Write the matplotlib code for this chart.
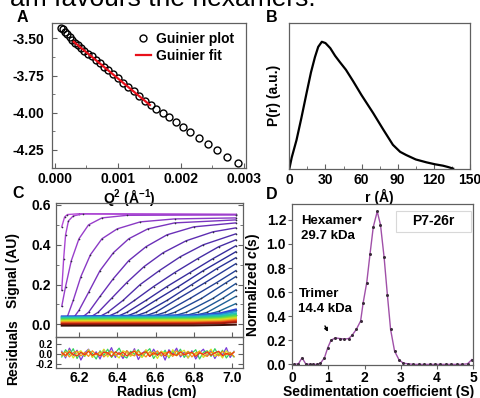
import matplotlib
matplotlib.use("Agg")
import matplotlib.pyplot as plt
from matplotlib.colors import LinearSegmentedColormap
from matplotlib.patches import Rectangle

plt.rcParams["font.family"] = ["Liberation Sans", "DejaVu Sans"]
plt.rcParams["font.weight"] = "bold"
plt.rcParams["axes.labelweight"] = "bold"
plt.rcParams["font.size"] = 10
plt.rcParams["mathtext.fontset"] = "custom"
plt.rcParams["mathtext.rm"] = "Liberation Sans:bold"
plt.rcParams["mathtext.bf"] = "Liberation Sans:bold"
plt.rcParams["mathtext.it"] = "Liberation Sans:bold:italic"

# ---- A: Guinier plot ----
guinier_q2 = [0.000106, 0.000135, 0.000166, 0.000201, 0.000238, 0.000279, 0.000322,
              0.000369, 0.000418, 0.000471, 0.000527, 0.000585, 0.000647, 0.000712,
              0.00078, 0.000851, 0.000925, 0.001002, 0.001082, 0.001165, 0.001251,
              0.00134, 0.001432, 0.00153, 0.00161, 0.00171, 0.00181, 0.00192,
              0.00204, 0.00215, 0.00229, 0.00243, 0.00258, 0.002735, 0.00291]
guinier_lnI = [-3.428, -3.440, -3.455, -3.472, -3.492, -3.511, -3.530, -3.548, -3.565,
               -3.583, -3.602, -3.622, -3.644, -3.667, -3.691, -3.716, -3.742, -3.769,
               -3.797, -3.826, -3.857, -3.888, -3.920, -3.950, -3.972, -4.002, -4.030,
               -4.060, -4.096, -4.130, -4.168, -4.210, -4.250, -4.295, -4.335]
fit_q2 = [0.0003, 0.00151]
fit_lnI = [-3.523, -3.948]

# ---- B: pair distance distribution ----
pr_r = [0, 2, 6, 10, 14.4, 18, 21.3, 24, 27, 30, 34, 38, 42, 47, 53, 60, 69.6, 78,
        86, 92, 97, 105, 114, 121, 127.6, 132, 136]
pr_p = [0, 0.09, 0.228, 0.40, 0.60, 0.76, 0.88, 0.96, 1.0, 0.99, 0.95, 0.89, 0.84,
        0.78, 0.69, 0.58, 0.44, 0.31, 0.19, 0.135, 0.11, 0.075, 0.052, 0.037, 0.026,
        0.015, 0.003]

# ---- C: sedimentation velocity scans ----
scan_radius = [
    [6.11, 6.125, 6.14, 6.2, 7.02],
    [6.11, 6.12, 6.13, 6.145, 6.17, 6.22, 7.02],
    [6.11, 6.13, 6.16, 6.2, 6.25, 6.32, 6.45, 7.02],
    [6.11, 6.14, 6.17, 6.21, 6.26, 6.32, 6.4, 6.52, 6.7, 7.02],
    [6.11, 6.17, 6.2, 6.25, 6.31, 6.38, 6.46, 6.56, 6.7, 7.02],
    [6.11, 6.21, 6.25, 6.31, 6.38, 6.46, 6.55, 6.66, 6.8, 7.02],
    [6.11, 6.25, 6.3, 6.37, 6.45, 6.54, 6.64, 6.76, 6.9, 7.02],
    [6.11, 6.29, 6.35, 6.43, 6.52, 6.62, 6.73, 6.85, 7.02],
    [6.11, 6.33, 6.4, 6.49, 6.59, 6.7, 6.82, 6.93, 7.02],
    [6.11, 6.38, 6.45, 6.55, 6.66, 6.78, 6.9, 7.02],
    [6.11, 6.42, 6.5, 6.6, 6.72, 6.85, 7.02],
    [6.11, 6.46, 6.55, 6.66, 6.79, 6.92, 7.02],
    [6.11, 6.51, 6.6, 6.72, 6.86, 7.02],
    [6.11, 6.55, 6.65, 6.78, 6.92, 7.02],
    [6.11, 6.6, 6.7, 6.84, 6.97, 7.02],
    [6.11, 6.65, 6.76, 6.9, 7.02],
    [6.11, 6.7, 6.82, 6.95, 7.02],
    [6.11, 6.75, 6.87, 7.02],
    [6.11, 6.8, 6.93, 7.02],
    [6.11, 6.86, 6.97, 7.02],
    [6.11, 6.92, 7.02],
]
scan_signal = [
    [0.49, 0.54, 0.552, 0.556, 0.553],
    [0.17, 0.33, 0.45, 0.52, 0.545, 0.555, 0.552],
    [0.09, 0.19, 0.32, 0.43, 0.50, 0.535, 0.548, 0.55],
    [0.025, 0.04, 0.12, 0.24, 0.35, 0.43, 0.48, 0.515, 0.53, 0.535],
    [0.025, 0.03, 0.07, 0.16, 0.27, 0.36, 0.43, 0.48, 0.51, 0.525],
    [0.025, 0.03, 0.06, 0.14, 0.23, 0.32, 0.39, 0.45, 0.49, 0.51],
    [0.025, 0.03, 0.06, 0.13, 0.21, 0.29, 0.36, 0.42, 0.465, 0.485],
    [0.025, 0.03, 0.06, 0.12, 0.20, 0.27, 0.34, 0.40, 0.455],
    [0.025, 0.03, 0.06, 0.12, 0.19, 0.26, 0.33, 0.39, 0.425],
    [0.025, 0.03, 0.06, 0.12, 0.19, 0.26, 0.33, 0.395],
    [0.025, 0.03, 0.06, 0.12, 0.19, 0.27, 0.365],
    [0.025, 0.03, 0.06, 0.12, 0.20, 0.28, 0.335],
    [0.025, 0.03, 0.06, 0.13, 0.21, 0.305],
    [0.025, 0.03, 0.06, 0.13, 0.21, 0.27],
    [0.025, 0.03, 0.06, 0.13, 0.21, 0.24],
    [0.025, 0.03, 0.06, 0.13, 0.205],
    [0.025, 0.03, 0.06, 0.13, 0.173],
    [0.025, 0.03, 0.06, 0.14],
    [0.025, 0.03, 0.065, 0.104],
    [0.025, 0.03, 0.06, 0.07],
    [0.025, 0.03, 0.045],
]
band_radius = [6.11, 6.8, 6.94, 7.02]
band_signal = [
    [0.040, 0.046, 0.056, 0.075],
    [0.036, 0.041, 0.049, 0.065],
    [0.032, 0.036, 0.043, 0.056],
    [0.028, 0.032, 0.038, 0.048],
    [0.024, 0.027, 0.032, 0.042],
    [0.020, 0.023, 0.027, 0.036],
    [0.016, 0.019, 0.023, 0.031],
    [0.012, 0.015, 0.018, 0.026],
    [0.008, 0.010, 0.013, 0.021],
    [0.004, 0.006, 0.009, 0.016],
    [0.000, 0.002, 0.005, 0.010],
    [-0.007, -0.006, -0.004, -0.002],
]

res_radius = [6.11, 6.13, 6.15, 6.17, 6.19, 6.21, 6.23, 6.25, 6.27, 6.29,
              6.31, 6.33, 6.35, 6.37, 6.39, 6.41, 6.43, 6.45, 6.47, 6.49,
              6.51, 6.53, 6.55, 6.57, 6.59, 6.61, 6.63, 6.65, 6.67, 6.69,
              6.71, 6.73, 6.75, 6.77, 6.79, 6.81, 6.83, 6.85, 6.87, 6.89,
              6.91, 6.93, 6.95, 6.97, 6.99, 7.01]
res_blue = [0.05, -0.08, 0.11, -0.03, 0.07, -0.12, 0.02, 0.09, -0.06, 0.04,
            -0.10, 0.08, -0.02, 0.12, -0.07, 0.03, -0.09, 0.06, -0.04, 0.10,
            -0.11, 0.01, 0.07, -0.05, 0.09, -0.03, 0.05, -0.12, 0.08, -0.01,
            0.11, -0.06, 0.03, -0.08, 0.06, -0.10, 0.02, 0.09, -0.04, 0.07,
            -0.09, 0.04, -0.02, 0.12, -0.07, 0.05]
res_green = [-0.06, 0.08, -0.02, 0.10, -0.09, 0.04, -0.05, 0.07, 0.01, -0.10,
             0.06, -0.03, 0.09, -0.07, 0.02, 0.11, -0.04, -0.08, 0.05, -0.01,
             0.08, -0.06, 0.03, 0.10, -0.09, 0.02, -0.04, 0.07, -0.08, 0.05,
             -0.02, 0.09, -0.07, 0.04, 0.01, 0.08, -0.10, 0.03, 0.06, -0.05,
             0.10, -0.03, 0.07, -0.08, 0.02, -0.06]
res_yellow = [0.03, -0.05, 0.07, -0.08, 0.02, 0.06, -0.04, 0.08, -0.07, 0.01,
              -0.03, 0.09, -0.06, 0.04, -0.02, -0.08, 0.06, 0.02, -0.05, 0.07,
              -0.01, -0.07, 0.08, -0.03, 0.04, -0.09, 0.05, 0.01, -0.06, 0.08,
              -0.04, 0.02, 0.07, -0.08, 0.03, -0.02, 0.06, -0.07, 0.01, 0.09,
              -0.05, 0.02, -0.08, 0.06, -0.03, 0.04]
res_orange = [-0.03, 0.04, -0.06, 0.02, 0.05, -0.04, 0.03, -0.05, 0.06, -0.02,
              0.04, -0.06, 0.01, 0.05, -0.03, 0.02, -0.05, 0.06, -0.01, -0.04,
              0.05, 0.00, -0.06, 0.04, -0.02, 0.06, -0.04, 0.02, 0.03, -0.05,
              0.06, -0.03, -0.01, 0.05, -0.06, 0.02, 0.04, -0.02, -0.05, 0.03,
              0.01, -0.04, 0.05, -0.02, 0.03, -0.05]
res_red = [0.02, -0.03, 0.04, -0.01, -0.04, 0.03, -0.02, 0.05, -0.03, 0.01,
           -0.04, 0.03, 0.02, -0.05, 0.04, -0.01, 0.03, -0.04, 0.02, 0.05,
           -0.03, 0.01, 0.04, -0.05, 0.02, -0.02, 0.03, -0.04, 0.05, -0.01,
           -0.03, 0.04, -0.02, 0.01, 0.03, -0.05, 0.02, -0.01, 0.04, -0.03,
           0.02, 0.05, -0.04, 0.01, -0.02, 0.03]

# ---- D: c(s) distribution ----
cs_s = [0.05, 0.17, 0.27, 0.37, 0.48, 0.58, 0.68, 0.78, 0.89, 0.98, 1.07, 1.19,
        1.31, 1.44, 1.56, 1.65, 1.77, 1.89, 1.96, 2.06, 2.15, 2.24, 2.35, 2.44,
        2.54, 2.63, 2.72, 2.83, 2.95, 3.07, 3.2, 3.35, 3.5, 3.65, 3.8, 3.95,
        4.1, 4.25, 4.4, 4.55, 4.7, 4.85, 4.97]
cs_c = [0.0, 0.005, 0.055, 0.005, 0.0, 0.0, 0.0, 0.01, 0.055, 0.138, 0.20, 0.22,
        0.215, 0.21, 0.215, 0.24, 0.29, 0.36, 0.51, 0.68, 0.915, 1.14, 1.27, 1.16,
        0.89, 0.58, 0.29, 0.11, 0.04, 0.01, 0.005, 0.0, 0.0, 0.0, 0.0, 0.0,
        0.0, 0.0, 0.0, 0.0, 0.0, 0.005, 0.04]

W, H = 481, 398
fig = plt.figure(figsize=(W / 100, H / 100), dpi=100)


def add_px_axes(l, t, r, b):
    ax = fig.add_axes([l / W, 1 - b / H, (r - l) / W, (b - t) / H])
    ax.patch.set_alpha(0)
    return ax


def style(ax):
    for sp in ax.spines.values():
        sp.set_color("#606060")
        sp.set_linewidth(0.9)


# caption fragment cut at the top
fig.text(10 / W, 1 - 5.5 / H, "am favours the hexamers.", fontsize=19,
         fontweight="normal", va="baseline", ha="left")

# A
axA = add_px_axes(52.3, 22.7, 245.7, 167.7)
style(axA)
axA.plot(guinier_q2, guinier_lnI, "o", mfc="none", mec="black", ms=5, mew=1,
         label="Guinier plot", zorder=2)
axA.plot(fit_q2, fit_lnI, "-", color="#e8101a", lw=1.6, label="Guinier fit", zorder=3)
axA.set_xlim(-0.00004, 0.00303)
axA.set_ylim(-4.369, -3.395)
axA.set_xticks([0, 0.001, 0.002, 0.003])
axA.set_xticklabels(["0.000", "0.001", "0.002", "0.003"])
axA.set_xticks([0.0005, 0.0015, 0.0025], minor=True)
axA.set_yticks([-3.5, -3.75, -4.0, -4.25])
axA.set_yticklabels(["-3.50", "-3.75", "-4.00", "-4.25"])
axA.set_yticks([-3.625, -3.875, -4.125], minor=True)
axA.tick_params(which="both", direction="in", color="#606060")
axA.tick_params(axis="y", pad=6)
axA.tick_params(axis="x", pad=3)
axA.set_xlabel(r"Q$^{2}$ (Å$^{-1}$)")
axA.xaxis.set_label_coords(0.40, -0.135)
axA.legend(loc="upper right", bbox_to_anchor=(1.0, 1.01), frameon=False,
           handlelength=1.1, handletextpad=0.4, labelspacing=0.2, borderpad=0.3)

# B
axB = add_px_axes(289.3, 22.7, 470, 169)
style(axB)
axB.plot(pr_r, pr_p, color="black", lw=1.6)
axB.set_xlim(0, 150)
axB.set_ylim(0, 1.15)
axB.set_xticks([0, 30, 60, 90, 120, 150])
axB.set_xticks([15, 45, 75, 105, 135], minor=True)
axB.set_yticks([])
axB.tick_params(which="both", direction="in", color="#606060")
axB.tick_params(axis="x", pad=3)
axB.set_xlabel("r (Å)", labelpad=1)
axB.set_ylabel("P(r) (a.u.)", labelpad=6)

# C main
axC = add_px_axes(56, 203, 243, 337)
style(axC)
rise_cmap = LinearSegmentedColormap.from_list(
    "rise", ["#b84ad8", "#6a2fb8", "#2c2c98", "#1f4f96", "#1c7c98"])
n_scans = len(scan_radius)
for i in range(n_scans):
    axC.plot(scan_radius[i], scan_signal[i], color=rise_cmap(i / (n_scans - 1)),
             lw=1.0)
    axC.plot(scan_radius[i], scan_signal[i], "o", color="#303040", ms=1.2, mew=0)
band_cmap = LinearSegmentedColormap.from_list(
    "band", ["#2f48d0", "#20b8d8", "#30d080", "#7ee030", "#e8e020", "#f08020",
             "#e02010", "#3a1008"])
n_band = len(band_signal)
for i in range(n_band):
    axC.plot(band_radius, band_signal[i], color=band_cmap(i / (n_band - 1)), lw=1.4)
axC.set_xlim(6.08, 7.057)
axC.set_ylim(-0.064, 0.61)
axC.set_xticks([6.2, 6.4, 6.6, 6.8, 7.0])
axC.set_xticklabels([])
axC.set_yticks([0.0, 0.2, 0.4, 0.6])
axC.set_yticks([0.1, 0.3, 0.5], minor=True)
axC.tick_params(which="both", direction="in", right=True, color="#606060")
axC.set_ylabel("Signal (AU)")
axC.yaxis.set_label_coords(-0.19, 0.5)

# C residuals
axR = add_px_axes(56, 337, 243, 368)
style(axR)
for vals, col in [(res_blue, "#7a3ad8"), (res_green, "#36d060"),
                  (res_yellow, "#d8e020"), (res_orange, "#f09018"), (res_red, "#f03a10")]:
    axR.plot(res_radius, vals, color=col, lw=0.9)
axR.set_xlim(6.08, 7.057)
axR.set_ylim(-0.274, 0.326)
axR.set_xticks([6.2, 6.4, 6.6, 6.8, 7.0])
axR.set_xticklabels(["6.2", "6.4", "6.6", "6.8", "7.0"])
axR.set_yticks([-0.2, 0.0, 0.2])
axR.set_yticklabels(["-0.2", "0.0", "0.2"])
axR.tick_params(which="both", direction="in", right=True, color="#606060")
axR.tick_params(axis="y", pad=2, labelsize=7.4)
axR.tick_params(axis="x", pad=2)
axR.set_xlabel("Radius (cm)")
axR.xaxis.set_label_coords(0.54, -0.55)
axR.set_ylabel("Residuals")
axR.yaxis.set_label_coords(-0.19, 0.5)

# D
axD = add_px_axes(292.3, 204, 473, 365)
style(axD)
axD.plot(cs_s, cs_c, "-", color="#a050a8", lw=1.0)
axD.plot(cs_s, cs_c, "o", color="#3a2a3a", ms=2.2, mew=0)
axD.set_xlim(0, 5)
axD.set_ylim(-0.005, 1.332)
axD.set_xticks([0, 1, 2, 3, 4, 5])
axD.set_yticks([0.0, 0.2, 0.4, 0.6, 0.8, 1.0, 1.2])
axD.set_yticklabels(["0.0", "0.2", "0.4", "0.6", "0.8", "1.0", "1.2"])
axD.tick_params(direction="out", length=3, pad=1.5, color="#606060")
axD.set_xlabel("Sedimentation coefficient (S)")
axD.xaxis.set_label_coords(0.48, -0.125)
axD.set_ylabel(r"Normalized $\it{c}$(s)", labelpad=3)
axD.text(0.25, 1.126, "Hexamer\n29.7 kDa", ha="left", va="center", linespacing=1.3,
         fontsize=9.5)
axD.text(0.17, 0.52, "Trimer\n14.4 kDa", ha="left", va="center", linespacing=1.3,
         fontsize=9.5)
axD.annotate("", xy=(1.98, 1.245), xytext=(1.80, 1.19),
             arrowprops=dict(arrowstyle="-|>", color="black", lw=1, mutation_scale=5))
axD.annotate("", xy=(1.02, 0.25), xytext=(0.87, 0.34),
             arrowprops=dict(arrowstyle="-|>", color="black", lw=1, mutation_scale=5))
axD.add_patch(Rectangle((2.86, 1.10), 2.08, 0.175, fill=False, ec="#d8d8d8", lw=0.8))
axD.text(3.9, 1.19, "P7-26r", ha="center", va="center")

# panel letters
for letter, x, y in [("A", 22, 18), ("B", 272, 17), ("C", 18, 194), ("D", 272, 195)]:
    fig.text(x / W, 1 - y / H, letter, fontsize=11.5, ha="center", va="center")

fig.savefig("out.png", dpi=100)
